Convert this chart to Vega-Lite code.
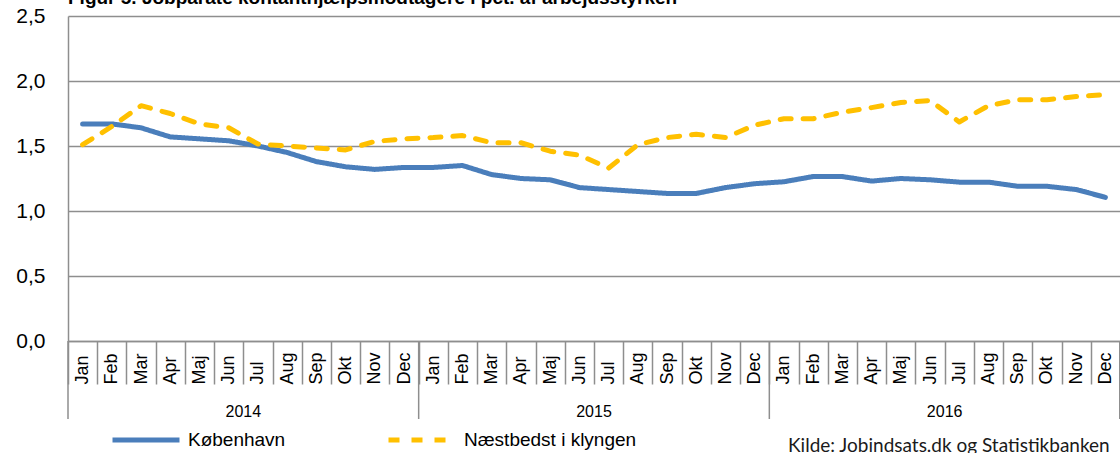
{
  "$schema": "https://vega.github.io/schema/vega-lite/v6.json",
  "width": 1052,
  "height": 325,
  "autosize": {"type": "none"},
  "padding": {"left": 68, "top": 16, "right": 0, "bottom": 112},
  "background": "white",
  "config": {"view": {"stroke": null}, "font": "Liberation Sans"},
  "title": {
    "text": "Figur 5. Jobparate kontanthjælpsmodtagere i pct. af arbejdsstyrken",
    "anchor": "start",
    "frame": "group",
    "font": "Liberation Sans",
    "fontSize": 19,
    "fontWeight": "bold",
    "color": "#000000",
    "offset": 0,
    "dy": 3
  },
  "datasets": {
    "serier": [
      {"key": "2014-Jan", "serie": "København", "value": 1.67},
      {"key": "2014-Feb", "serie": "København", "value": 1.67},
      {"key": "2014-Mar", "serie": "København", "value": 1.64},
      {"key": "2014-Apr", "serie": "København", "value": 1.57},
      {"key": "2014-Maj", "serie": "København", "value": 1.555},
      {"key": "2014-Jun", "serie": "København", "value": 1.54},
      {"key": "2014-Jul", "serie": "København", "value": 1.5},
      {"key": "2014-Aug", "serie": "København", "value": 1.45},
      {"key": "2014-Sep", "serie": "København", "value": 1.38},
      {"key": "2014-Okt", "serie": "København", "value": 1.34},
      {"key": "2014-Nov", "serie": "København", "value": 1.32},
      {"key": "2014-Dec", "serie": "København", "value": 1.335},
      {"key": "2015-Jan", "serie": "København", "value": 1.335},
      {"key": "2015-Feb", "serie": "København", "value": 1.35},
      {"key": "2015-Mar", "serie": "København", "value": 1.28},
      {"key": "2015-Apr", "serie": "København", "value": 1.25},
      {"key": "2015-Maj", "serie": "København", "value": 1.24},
      {"key": "2015-Jun", "serie": "København", "value": 1.18},
      {"key": "2015-Jul", "serie": "København", "value": 1.165},
      {"key": "2015-Aug", "serie": "København", "value": 1.15},
      {"key": "2015-Sep", "serie": "København", "value": 1.135},
      {"key": "2015-Okt", "serie": "København", "value": 1.135},
      {"key": "2015-Nov", "serie": "København", "value": 1.18},
      {"key": "2015-Dec", "serie": "København", "value": 1.21},
      {"key": "2016-Jan", "serie": "København", "value": 1.225},
      {"key": "2016-Feb", "serie": "København", "value": 1.265},
      {"key": "2016-Mar", "serie": "København", "value": 1.265},
      {"key": "2016-Apr", "serie": "København", "value": 1.23},
      {"key": "2016-Maj", "serie": "København", "value": 1.25},
      {"key": "2016-Jun", "serie": "København", "value": 1.24},
      {"key": "2016-Jul", "serie": "København", "value": 1.222},
      {"key": "2016-Aug", "serie": "København", "value": 1.222},
      {"key": "2016-Sep", "serie": "København", "value": 1.19},
      {"key": "2016-Okt", "serie": "København", "value": 1.19},
      {"key": "2016-Nov", "serie": "København", "value": 1.165},
      {"key": "2016-Dec", "serie": "København", "value": 1.105},
      {"key": "2014-Jan", "serie": "Næstbedst i klyngen", "value": 1.51},
      {"key": "2014-Feb", "serie": "Næstbedst i klyngen", "value": 1.65},
      {"key": "2014-Mar", "serie": "Næstbedst i klyngen", "value": 1.81},
      {"key": "2014-Apr", "serie": "Næstbedst i klyngen", "value": 1.75},
      {"key": "2014-Maj", "serie": "Næstbedst i klyngen", "value": 1.67},
      {"key": "2014-Jun", "serie": "Næstbedst i klyngen", "value": 1.64},
      {"key": "2014-Jul", "serie": "Næstbedst i klyngen", "value": 1.515},
      {"key": "2014-Aug", "serie": "Næstbedst i klyngen", "value": 1.5},
      {"key": "2014-Sep", "serie": "Næstbedst i klyngen", "value": 1.485},
      {"key": "2014-Okt", "serie": "Næstbedst i klyngen", "value": 1.47},
      {"key": "2014-Nov", "serie": "Næstbedst i klyngen", "value": 1.535},
      {"key": "2014-Dec", "serie": "Næstbedst i klyngen", "value": 1.555},
      {"key": "2015-Jan", "serie": "Næstbedst i klyngen", "value": 1.565},
      {"key": "2015-Feb", "serie": "Næstbedst i klyngen", "value": 1.58},
      {"key": "2015-Mar", "serie": "Næstbedst i klyngen", "value": 1.525},
      {"key": "2015-Apr", "serie": "Næstbedst i klyngen", "value": 1.525},
      {"key": "2015-Maj", "serie": "Næstbedst i klyngen", "value": 1.46},
      {"key": "2015-Jun", "serie": "Næstbedst i klyngen", "value": 1.43},
      {"key": "2015-Jul", "serie": "Næstbedst i klyngen", "value": 1.33},
      {"key": "2015-Aug", "serie": "Næstbedst i klyngen", "value": 1.51},
      {"key": "2015-Sep", "serie": "Næstbedst i klyngen", "value": 1.565},
      {"key": "2015-Okt", "serie": "Næstbedst i klyngen", "value": 1.59},
      {"key": "2015-Nov", "serie": "Næstbedst i klyngen", "value": 1.565},
      {"key": "2015-Dec", "serie": "Næstbedst i klyngen", "value": 1.66},
      {"key": "2016-Jan", "serie": "Næstbedst i klyngen", "value": 1.71},
      {"key": "2016-Feb", "serie": "Næstbedst i klyngen", "value": 1.71},
      {"key": "2016-Mar", "serie": "Næstbedst i klyngen", "value": 1.76},
      {"key": "2016-Apr", "serie": "Næstbedst i klyngen", "value": 1.795},
      {"key": "2016-Maj", "serie": "Næstbedst i klyngen", "value": 1.835},
      {"key": "2016-Jun", "serie": "Næstbedst i klyngen", "value": 1.85},
      {"key": "2016-Jul", "serie": "Næstbedst i klyngen", "value": 1.685},
      {"key": "2016-Aug", "serie": "Næstbedst i klyngen", "value": 1.81},
      {"key": "2016-Sep", "serie": "Næstbedst i klyngen", "value": 1.855},
      {"key": "2016-Okt", "serie": "Næstbedst i klyngen", "value": 1.855},
      {"key": "2016-Nov", "serie": "Næstbedst i klyngen", "value": 1.88},
      {"key": "2016-Dec", "serie": "Næstbedst i klyngen", "value": 1.895}
    ],
    "aar": [
      {"year": "2014", "start": "2014-Jan", "mid": "2014-Jun"},
      {"year": "2015", "start": "2015-Jan", "mid": "2015-Jun"},
      {"year": "2016", "start": "2016-Jan", "mid": "2016-Jun"}
    ],
    "kilde": [{"tekst": "Kilde: Jobindsats.dk og Statistikbanken"}]
  },
  "encoding": {
    "x": {
      "field": "key",
      "type": "ordinal",
      "sort": null,
      "bandPosition": 0.5,
      "scale": {"type": "band", "paddingInner": 0, "paddingOuter": 0},
      "axis": {
        "orient": "bottom",
        "title": null,
        "labelExpr": "datum.value ? substring(datum.value, 5) : ''",
        "labelAngle": 270,
        "labelAlign": "left",
        "labelBaseline": "middle",
        "labelPadding": 0,
        "labelFont": "Liberation Sans",
        "labelFontSize": 18,
        "labelColor": "#000000",
        "labelOverlap": false,
        "tickBand": "extent",
        "ticks": true,
        "tickSize": 43,
        "tickColor": "#8e8e8e",
        "tickWidth": 1.5,
        "domain": true,
        "domainColor": "#8e8e8e",
        "domainWidth": 1.5,
        "grid": false
      }
    }
  },
  "layer": [
    {
      "data": {"name": "serier"},
      "mark": {"type": "line", "strokeWidth": 5, "strokeCap": "round", "strokeJoin": "round"},
      "encoding": {
        "y": {
          "field": "value",
          "type": "quantitative",
          "scale": {"domain": [0, 2.5], "nice": false, "zero": true},
          "axis": {
            "title": null,
            "values": [0, 0.5, 1, 1.5, 2, 2.5],
            "labelExpr": "replace(format(datum.value, '.1f'), '.', ',')",
            "labelFont": "Liberation Sans",
            "labelFontSize": 21,
            "labelColor": "#000000",
            "labelPadding": 23,
            "ticks": false,
            "domain": true,
            "domainColor": "#8e8e8e",
            "domainWidth": 1.5,
            "grid": true,
            "gridColor": "#8e8e8e",
            "gridWidth": 1.5
          }
        },
        "color": {
          "field": "serie",
          "type": "nominal",
          "scale": {"domain": ["København", "Næstbedst i klyngen"], "range": ["#4a7ebb", "#ffc000"]},
          "legend": {
            "title": null,
            "orient": "none",
            "legendX": 42,
            "legendY": 388,
            "direction": "horizontal",
            "symbolType": "stroke",
            "symbolSize": 4489,
            "symbolStrokeWidth": 5,
            "labelFont": "Liberation Sans",
            "labelFontSize": 19,
            "labelColor": "#000000",
            "labelOffset": 6,
            "columnPadding": 92,
            "labelLimit": 400
          }
        },
        "strokeDash": {
          "field": "serie",
          "type": "nominal",
          "scale": {"domain": ["København", "Næstbedst i klyngen"], "range": [[1, 0], [11, 12]]},
          "legend": null
        }
      }
    },
    {
      "data": {"name": "aar"},
      "mark": {"type": "rule", "color": "#8e8e8e", "strokeWidth": 1.5},
      "encoding": {
        "x": {"field": "start", "type": "ordinal", "bandPosition": 0},
        "y": {"value": 325},
        "y2": {"value": 403}
      }
    },
    {
      "data": {"name": "aar"},
      "mark": {"type": "rule", "color": "#8e8e8e", "strokeWidth": 1.5},
      "encoding": {
        "x": {"datum": "2016-Dec", "type": "ordinal", "bandPosition": 1},
        "y": {"value": 325},
        "y2": {"value": 403}
      }
    },
    {
      "data": {"name": "aar"},
      "mark": {"type": "text", "font": "Liberation Sans", "fontSize": 16, "color": "#000000", "align": "center", "baseline": "middle"},
      "encoding": {
        "x": {"field": "mid", "type": "ordinal", "bandPosition": 1},
        "y": {"value": 396},
        "text": {"field": "year", "type": "nominal"}
      }
    },
    {
      "data": {"name": "kilde"},
      "mark": {"type": "text", "font": "Lato", "fontSize": 19, "color": "#1a1a1a", "align": "left", "baseline": "middle"},
      "encoding": {
        "text": {"field": "tekst", "type": "nominal"},
        "x": {"value": 720},
        "y": {"value": 430}
      }
    }
  ]
}
